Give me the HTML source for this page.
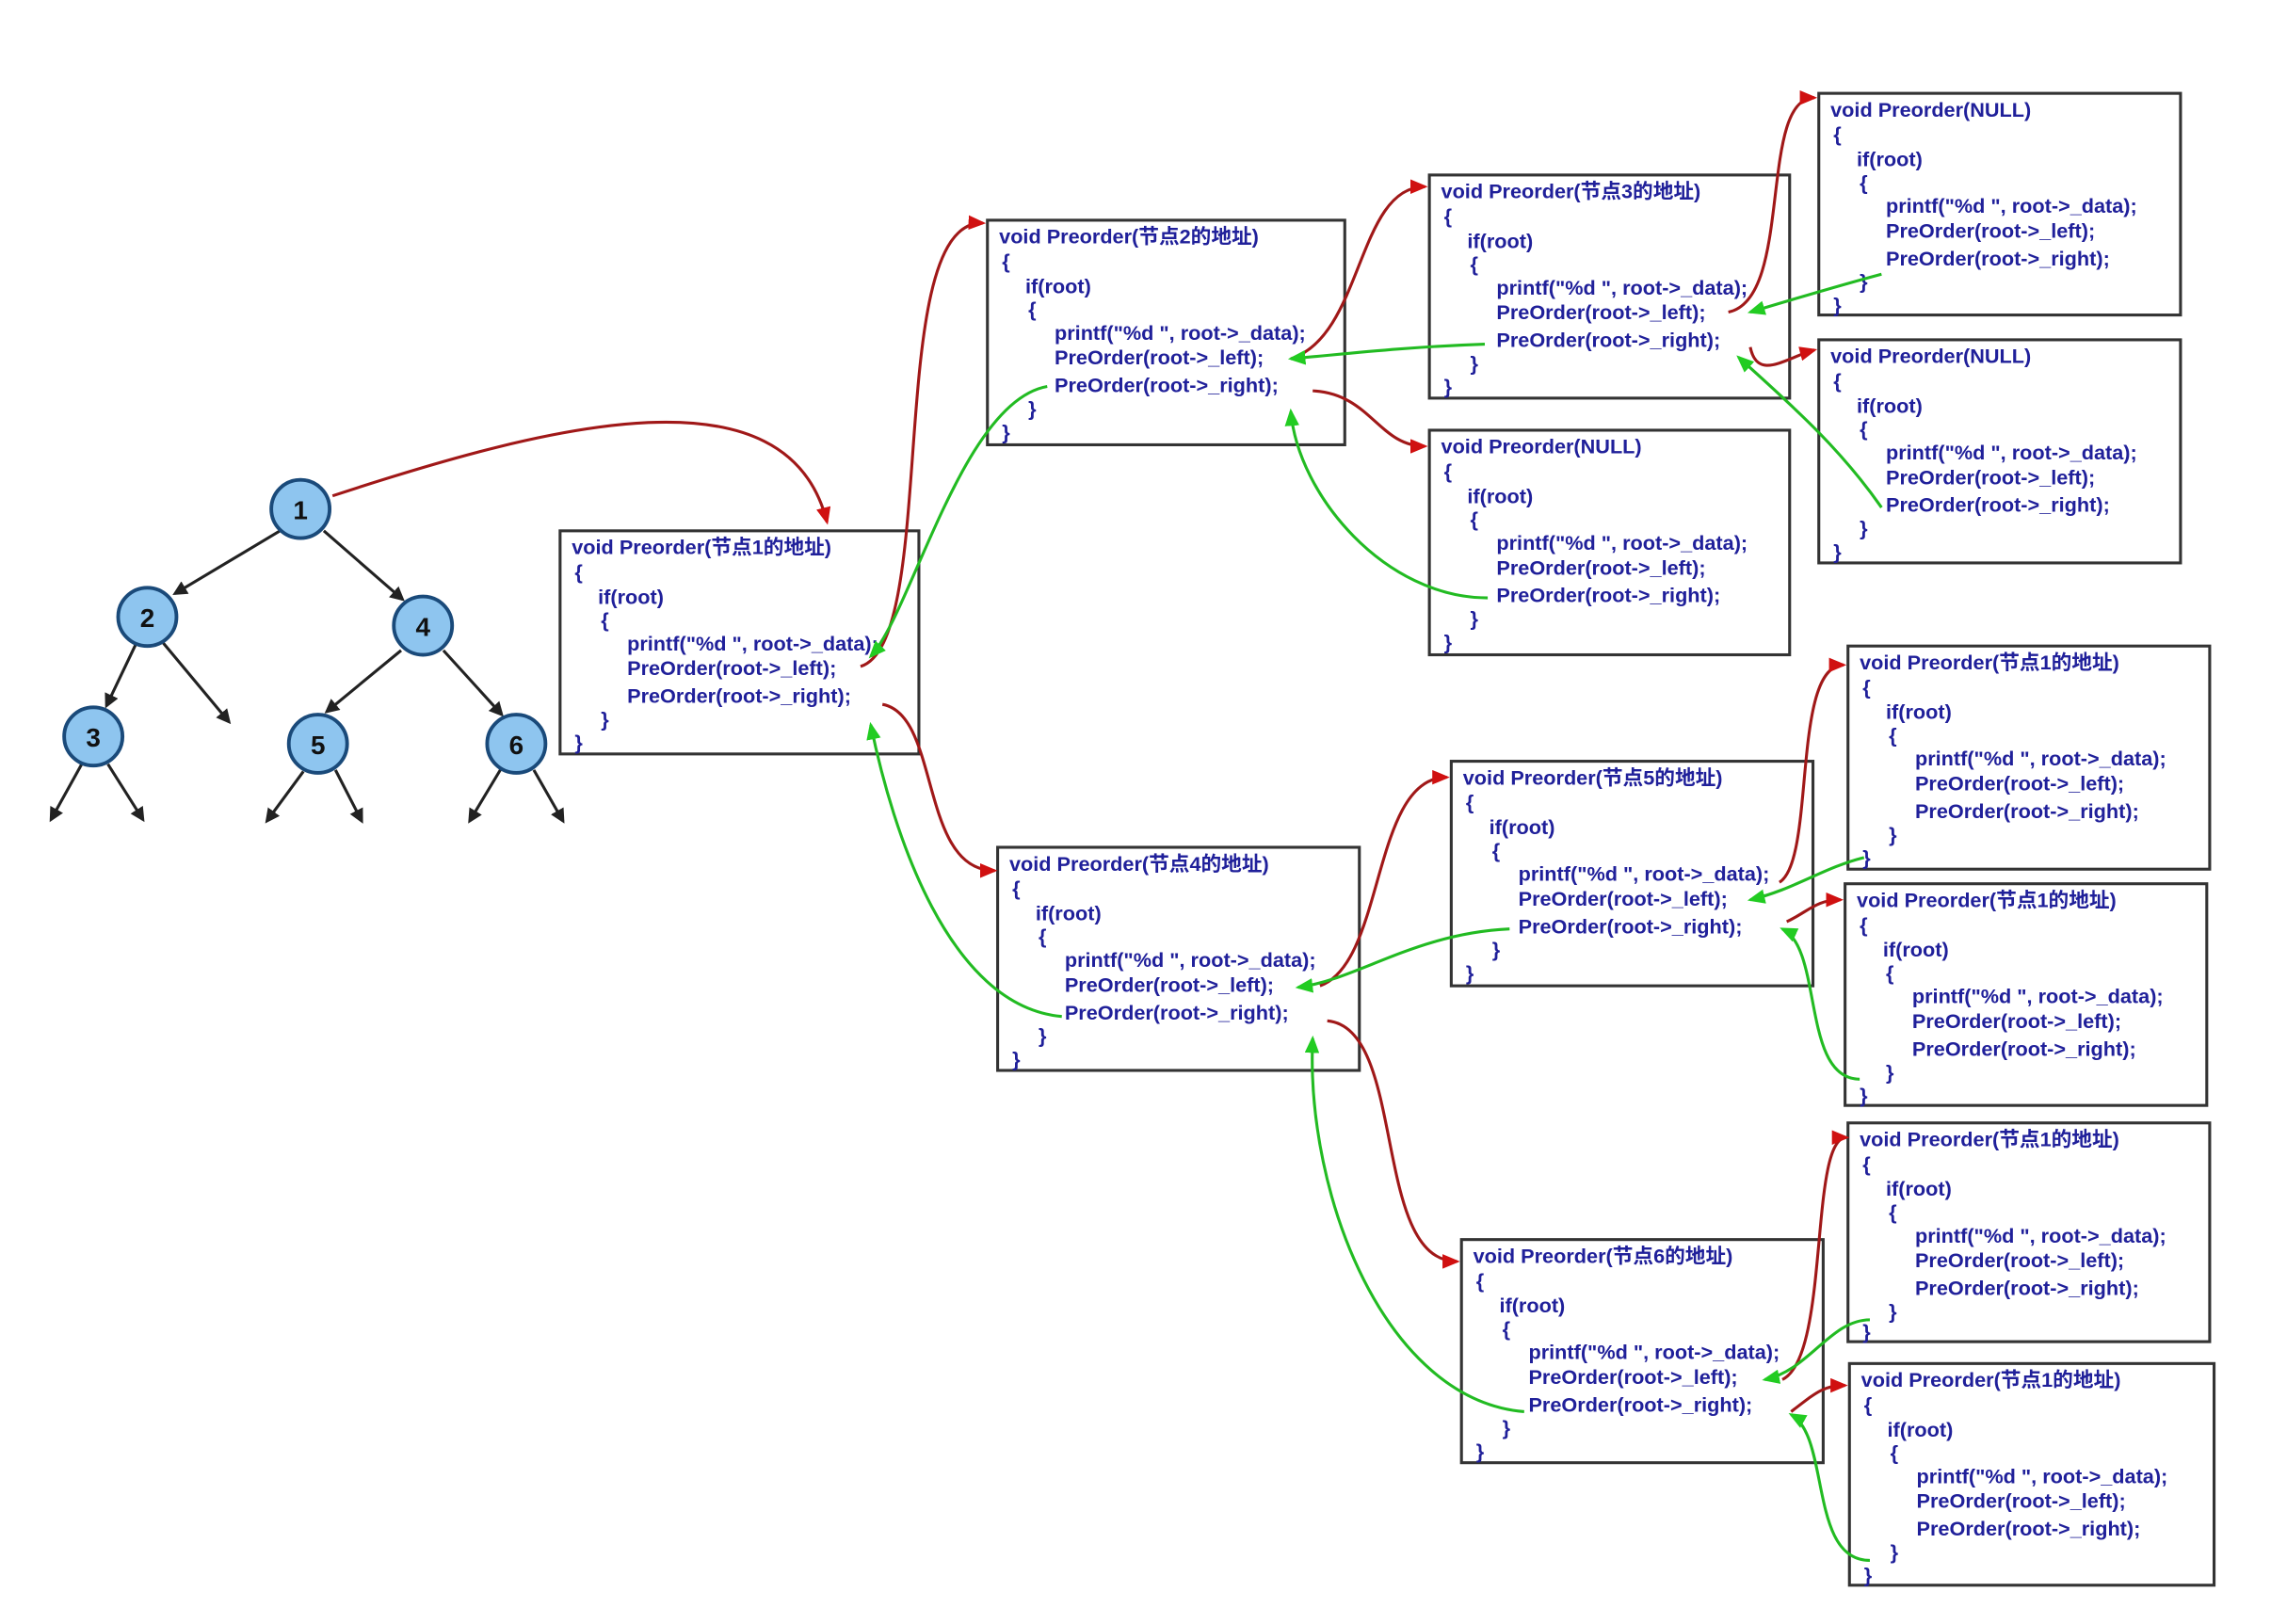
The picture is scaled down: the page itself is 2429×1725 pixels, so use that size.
<!DOCTYPE html>
<html><head><meta charset="utf-8"><style>
html,body{margin:0;padding:0;background:#fff;width:2429px;height:1725px;overflow:hidden}
svg{display:block}
.t{font-family:"Liberation Sans","Noto Sans CJK SC",sans-serif;font-size:14px;font-weight:bold;fill:#20209a}
.bx{fill:#fff;stroke:#333;stroke-width:2}
.r{fill:none;stroke:#a01818;stroke-width:2}
.g{fill:none;stroke:#22bb22;stroke-width:2}
.e{stroke:#222;stroke-width:2}
.n{fill:#8ec5ef;stroke:#1a4a7a;stroke-width:2.5}
.nt{font-family:"Liberation Sans",sans-serif;font-size:18px;font-weight:bold;fill:#111;text-anchor:middle}
</style></head><body>
<svg width="2429" height="1725" viewBox="0 0 1568 1113.6" preserveAspectRatio="none" xmlns="http://www.w3.org/2000/svg">
<defs>
<marker id="ab" markerWidth="10" markerHeight="10" refX="8" refY="5" orient="auto" markerUnits="userSpaceOnUse"><path d="M0,0 L10,5 L0,10 z" fill="#222"/></marker>
<marker id="ar" markerWidth="12" markerHeight="10" refX="10" refY="5" orient="auto" markerUnits="userSpaceOnUse"><path d="M0,0 L12,5 L0,10 z" fill="#d01010"/></marker>
<marker id="ag" markerWidth="12" markerHeight="10" refX="10" refY="5" orient="auto" markerUnits="userSpaceOnUse"><path d="M0,0 L12,5 L0,10 z" fill="#22cc22"/></marker>
</defs>

<!-- tree -->
<line class="e" x1="192" y1="364" x2="120" y2="407" marker-end="url(#ab)"/>
<line class="e" x1="222" y1="364" x2="276" y2="411" marker-end="url(#ab)"/>
<line class="e" x1="93" y1="442" x2="73" y2="484" marker-end="url(#ab)"/>
<line class="e" x1="112" y1="441" x2="157" y2="495" marker-end="url(#ab)"/>
<line class="e" x1="275" y1="446" x2="224" y2="488" marker-end="url(#ab)"/>
<line class="e" x1="304" y1="446" x2="344" y2="490" marker-end="url(#ab)"/>
<line class="e" x1="56" y1="524" x2="35" y2="562" marker-end="url(#ab)"/>
<line class="e" x1="74" y1="524" x2="98" y2="562" marker-end="url(#ab)"/>
<line class="e" x1="208" y1="529" x2="183" y2="563" marker-end="url(#ab)"/>
<line class="e" x1="230" y1="528" x2="248" y2="563" marker-end="url(#ab)"/>
<line class="e" x1="343" y1="528" x2="322" y2="563" marker-end="url(#ab)"/>
<line class="e" x1="366" y1="528" x2="386" y2="563" marker-end="url(#ab)"/>
<circle class="n" cx="206" cy="349" r="20"/><text class="nt" x="206" y="356">1</text>
<circle class="n" cx="101" cy="423" r="20"/><text class="nt" x="101" y="430">2</text>
<circle class="n" cx="290" cy="429" r="20"/><text class="nt" x="290" y="436">4</text>
<circle class="n" cx="64" cy="505" r="20"/><text class="nt" x="64" y="512">3</text>
<circle class="n" cx="218" cy="510" r="20"/><text class="nt" x="218" y="517">5</text>
<circle class="n" cx="354" cy="510" r="20"/><text class="nt" x="354" y="517">6</text>

<!-- boxes -->
<g transform="translate(384,364)"><rect class="bx" width="246" height="153"/>
<text class="t" x="8" y="16">void Preorder(节点1的地址)</text><text class="t" x="10" y="33">{</text><text class="t" x="26" y="50">if(root)</text><text class="t" x="28" y="66">{</text><text class="t" x="46" y="82">printf("%d ", root-&gt;_data);</text><text class="t" x="46" y="99">PreOrder(root-&gt;_left);</text><text class="t" x="46" y="118">PreOrder(root-&gt;_right);</text><text class="t" x="28" y="134">}</text><text class="t" x="10" y="150">}</text></g>

<g transform="translate(677,151)"><rect class="bx" width="245" height="154"/>
<text class="t" x="8" y="16">void Preorder(节点2的地址)</text><text class="t" x="10" y="33">{</text><text class="t" x="26" y="50">if(root)</text><text class="t" x="28" y="66">{</text><text class="t" x="46" y="82">printf("%d ", root-&gt;_data);</text><text class="t" x="46" y="99">PreOrder(root-&gt;_left);</text><text class="t" x="46" y="118">PreOrder(root-&gt;_right);</text><text class="t" x="28" y="134">}</text><text class="t" x="10" y="150">}</text></g>

<g transform="translate(980,120)"><rect class="bx" width="247" height="153"/>
<text class="t" x="8" y="16">void Preorder(节点3的地址)</text><text class="t" x="10" y="33">{</text><text class="t" x="26" y="50">if(root)</text><text class="t" x="28" y="66">{</text><text class="t" x="46" y="82">printf("%d ", root-&gt;_data);</text><text class="t" x="46" y="99">PreOrder(root-&gt;_left);</text><text class="t" x="46" y="118">PreOrder(root-&gt;_right);</text><text class="t" x="28" y="134">}</text><text class="t" x="10" y="150">}</text></g>

<g transform="translate(1247,64)"><rect class="bx" width="248" height="152"/>
<text class="t" x="8" y="16">void Preorder(NULL)</text><text class="t" x="10" y="33">{</text><text class="t" x="26" y="50">if(root)</text><text class="t" x="28" y="66">{</text><text class="t" x="46" y="82">printf("%d ", root-&gt;_data);</text><text class="t" x="46" y="99">PreOrder(root-&gt;_left);</text><text class="t" x="46" y="118">PreOrder(root-&gt;_right);</text><text class="t" x="28" y="134">}</text><text class="t" x="10" y="150">}</text></g>

<g transform="translate(1247,233)"><rect class="bx" width="248" height="153"/>
<text class="t" x="8" y="16">void Preorder(NULL)</text><text class="t" x="10" y="33">{</text><text class="t" x="26" y="50">if(root)</text><text class="t" x="28" y="66">{</text><text class="t" x="46" y="82">printf("%d ", root-&gt;_data);</text><text class="t" x="46" y="99">PreOrder(root-&gt;_left);</text><text class="t" x="46" y="118">PreOrder(root-&gt;_right);</text><text class="t" x="28" y="134">}</text><text class="t" x="10" y="150">}</text></g>

<g transform="translate(980,295)"><rect class="bx" width="247" height="154"/>
<text class="t" x="8" y="16">void Preorder(NULL)</text><text class="t" x="10" y="33">{</text><text class="t" x="26" y="50">if(root)</text><text class="t" x="28" y="66">{</text><text class="t" x="46" y="82">printf("%d ", root-&gt;_data);</text><text class="t" x="46" y="99">PreOrder(root-&gt;_left);</text><text class="t" x="46" y="118">PreOrder(root-&gt;_right);</text><text class="t" x="28" y="134">}</text><text class="t" x="10" y="150">}</text></g>

<g transform="translate(684,581)"><rect class="bx" width="248" height="153"/>
<text class="t" x="8" y="16">void Preorder(节点4的地址)</text><text class="t" x="10" y="33">{</text><text class="t" x="26" y="50">if(root)</text><text class="t" x="28" y="66">{</text><text class="t" x="46" y="82">printf("%d ", root-&gt;_data);</text><text class="t" x="46" y="99">PreOrder(root-&gt;_left);</text><text class="t" x="46" y="118">PreOrder(root-&gt;_right);</text><text class="t" x="28" y="134">}</text><text class="t" x="10" y="150">}</text></g>

<g transform="translate(995,522)"><rect class="bx" width="248" height="154"/>
<text class="t" x="8" y="16">void Preorder(节点5的地址)</text><text class="t" x="10" y="33">{</text><text class="t" x="26" y="50">if(root)</text><text class="t" x="28" y="66">{</text><text class="t" x="46" y="82">printf("%d ", root-&gt;_data);</text><text class="t" x="46" y="99">PreOrder(root-&gt;_left);</text><text class="t" x="46" y="118">PreOrder(root-&gt;_right);</text><text class="t" x="28" y="134">}</text><text class="t" x="10" y="150">}</text></g>

<g transform="translate(1267,443)"><rect class="bx" width="248" height="153"/>
<text class="t" x="8" y="16">void Preorder(节点1的地址)</text><text class="t" x="10" y="33">{</text><text class="t" x="26" y="50">if(root)</text><text class="t" x="28" y="66">{</text><text class="t" x="46" y="82">printf("%d ", root-&gt;_data);</text><text class="t" x="46" y="99">PreOrder(root-&gt;_left);</text><text class="t" x="46" y="118">PreOrder(root-&gt;_right);</text><text class="t" x="28" y="134">}</text><text class="t" x="10" y="150">}</text></g>

<g transform="translate(1265,606)"><rect class="bx" width="248" height="152"/>
<text class="t" x="8" y="16">void Preorder(节点1的地址)</text><text class="t" x="10" y="33">{</text><text class="t" x="26" y="50">if(root)</text><text class="t" x="28" y="66">{</text><text class="t" x="46" y="82">printf("%d ", root-&gt;_data);</text><text class="t" x="46" y="99">PreOrder(root-&gt;_left);</text><text class="t" x="46" y="118">PreOrder(root-&gt;_right);</text><text class="t" x="28" y="134">}</text><text class="t" x="10" y="150">}</text></g>

<g transform="translate(1002,850)"><rect class="bx" width="248" height="153"/>
<text class="t" x="8" y="16">void Preorder(节点6的地址)</text><text class="t" x="10" y="33">{</text><text class="t" x="26" y="50">if(root)</text><text class="t" x="28" y="66">{</text><text class="t" x="46" y="82">printf("%d ", root-&gt;_data);</text><text class="t" x="46" y="99">PreOrder(root-&gt;_left);</text><text class="t" x="46" y="118">PreOrder(root-&gt;_right);</text><text class="t" x="28" y="134">}</text><text class="t" x="10" y="150">}</text></g>

<g transform="translate(1267,770)"><rect class="bx" width="248" height="150"/>
<text class="t" x="8" y="16">void Preorder(节点1的地址)</text><text class="t" x="10" y="33">{</text><text class="t" x="26" y="50">if(root)</text><text class="t" x="28" y="66">{</text><text class="t" x="46" y="82">printf("%d ", root-&gt;_data);</text><text class="t" x="46" y="99">PreOrder(root-&gt;_left);</text><text class="t" x="46" y="118">PreOrder(root-&gt;_right);</text><text class="t" x="28" y="134">}</text><text class="t" x="10" y="148">}</text></g>

<g transform="translate(1268,935)"><rect class="bx" width="250" height="152"/>
<text class="t" x="8" y="16">void Preorder(节点1的地址)</text><text class="t" x="10" y="33">{</text><text class="t" x="26" y="50">if(root)</text><text class="t" x="28" y="66">{</text><text class="t" x="46" y="82">printf("%d ", root-&gt;_data);</text><text class="t" x="46" y="99">PreOrder(root-&gt;_left);</text><text class="t" x="46" y="118">PreOrder(root-&gt;_right);</text><text class="t" x="28" y="134">}</text><text class="t" x="10" y="150">}</text></g>

<!-- red call arrows -->
<path class="r" d="M228,340 C380,290 540,250 567,358" marker-end="url(#ar)"/>
<path class="r" d="M590,457 C645,440 605,150 674,153" marker-end="url(#ar)"/>
<path class="r" d="M605,483 C645,490 630,597 682,597" marker-end="url(#ar)"/>
<path class="r" d="M885,246 C935,230 930,128 977,128" marker-end="url(#ar)"/>
<path class="r" d="M900,268 C940,270 945,306 977,306" marker-end="url(#ar)"/>
<path class="r" d="M1185,214 C1230,205 1205,67 1244,67" marker-end="url(#ar)"/>
<path class="r" d="M1200,238 C1205,262 1225,245 1244,240" marker-end="url(#ar)"/>
<path class="r" d="M905,676 C950,660 940,533 992,533" marker-end="url(#ar)"/>
<path class="r" d="M910,700 C965,705 940,865 999,865" marker-end="url(#ar)"/>
<path class="r" d="M1220,605 C1245,590 1228,456 1264,456" marker-end="url(#ar)"/>
<path class="r" d="M1225,632 C1240,625 1245,617 1262,617" marker-end="url(#ar)"/>
<path class="r" d="M1222,946 C1255,930 1240,780 1266,780" marker-end="url(#ar)"/>
<path class="r" d="M1228,968 C1245,955 1250,950 1265,950" marker-end="url(#ar)"/>

<!-- green return arrows -->
<path class="g" d="M718,265 C660,275 625,420 597,450" marker-end="url(#ag)"/>
<path class="g" d="M1018,236 C960,238 920,243 885,246" marker-end="url(#ag)"/>
<path class="g" d="M1020,410 C950,410 890,340 885,282" marker-end="url(#ag)"/>
<path class="g" d="M1290,188 C1260,196 1230,205 1200,214" marker-end="url(#ag)"/>
<path class="g" d="M1290,348 C1260,305 1225,275 1192,245" marker-end="url(#ag)"/>
<path class="g" d="M728,697 C650,690 612,570 597,497" marker-end="url(#ag)"/>
<path class="g" d="M1035,637 C970,640 930,672 890,677" marker-end="url(#ag)"/>
<path class="g" d="M1045,968 C950,960 895,820 900,712" marker-end="url(#ag)"/>
<path class="g" d="M1278,588 C1250,595 1230,610 1200,617" marker-end="url(#ag)"/>
<path class="g" d="M1275,740 C1235,740 1250,650 1222,637" marker-end="url(#ag)"/>
<path class="g" d="M1282,905 C1255,905 1240,940 1210,946" marker-end="url(#ag)"/>
<path class="g" d="M1282,1070 C1240,1070 1255,985 1228,970" marker-end="url(#ag)"/>
</svg>
</body></html>
